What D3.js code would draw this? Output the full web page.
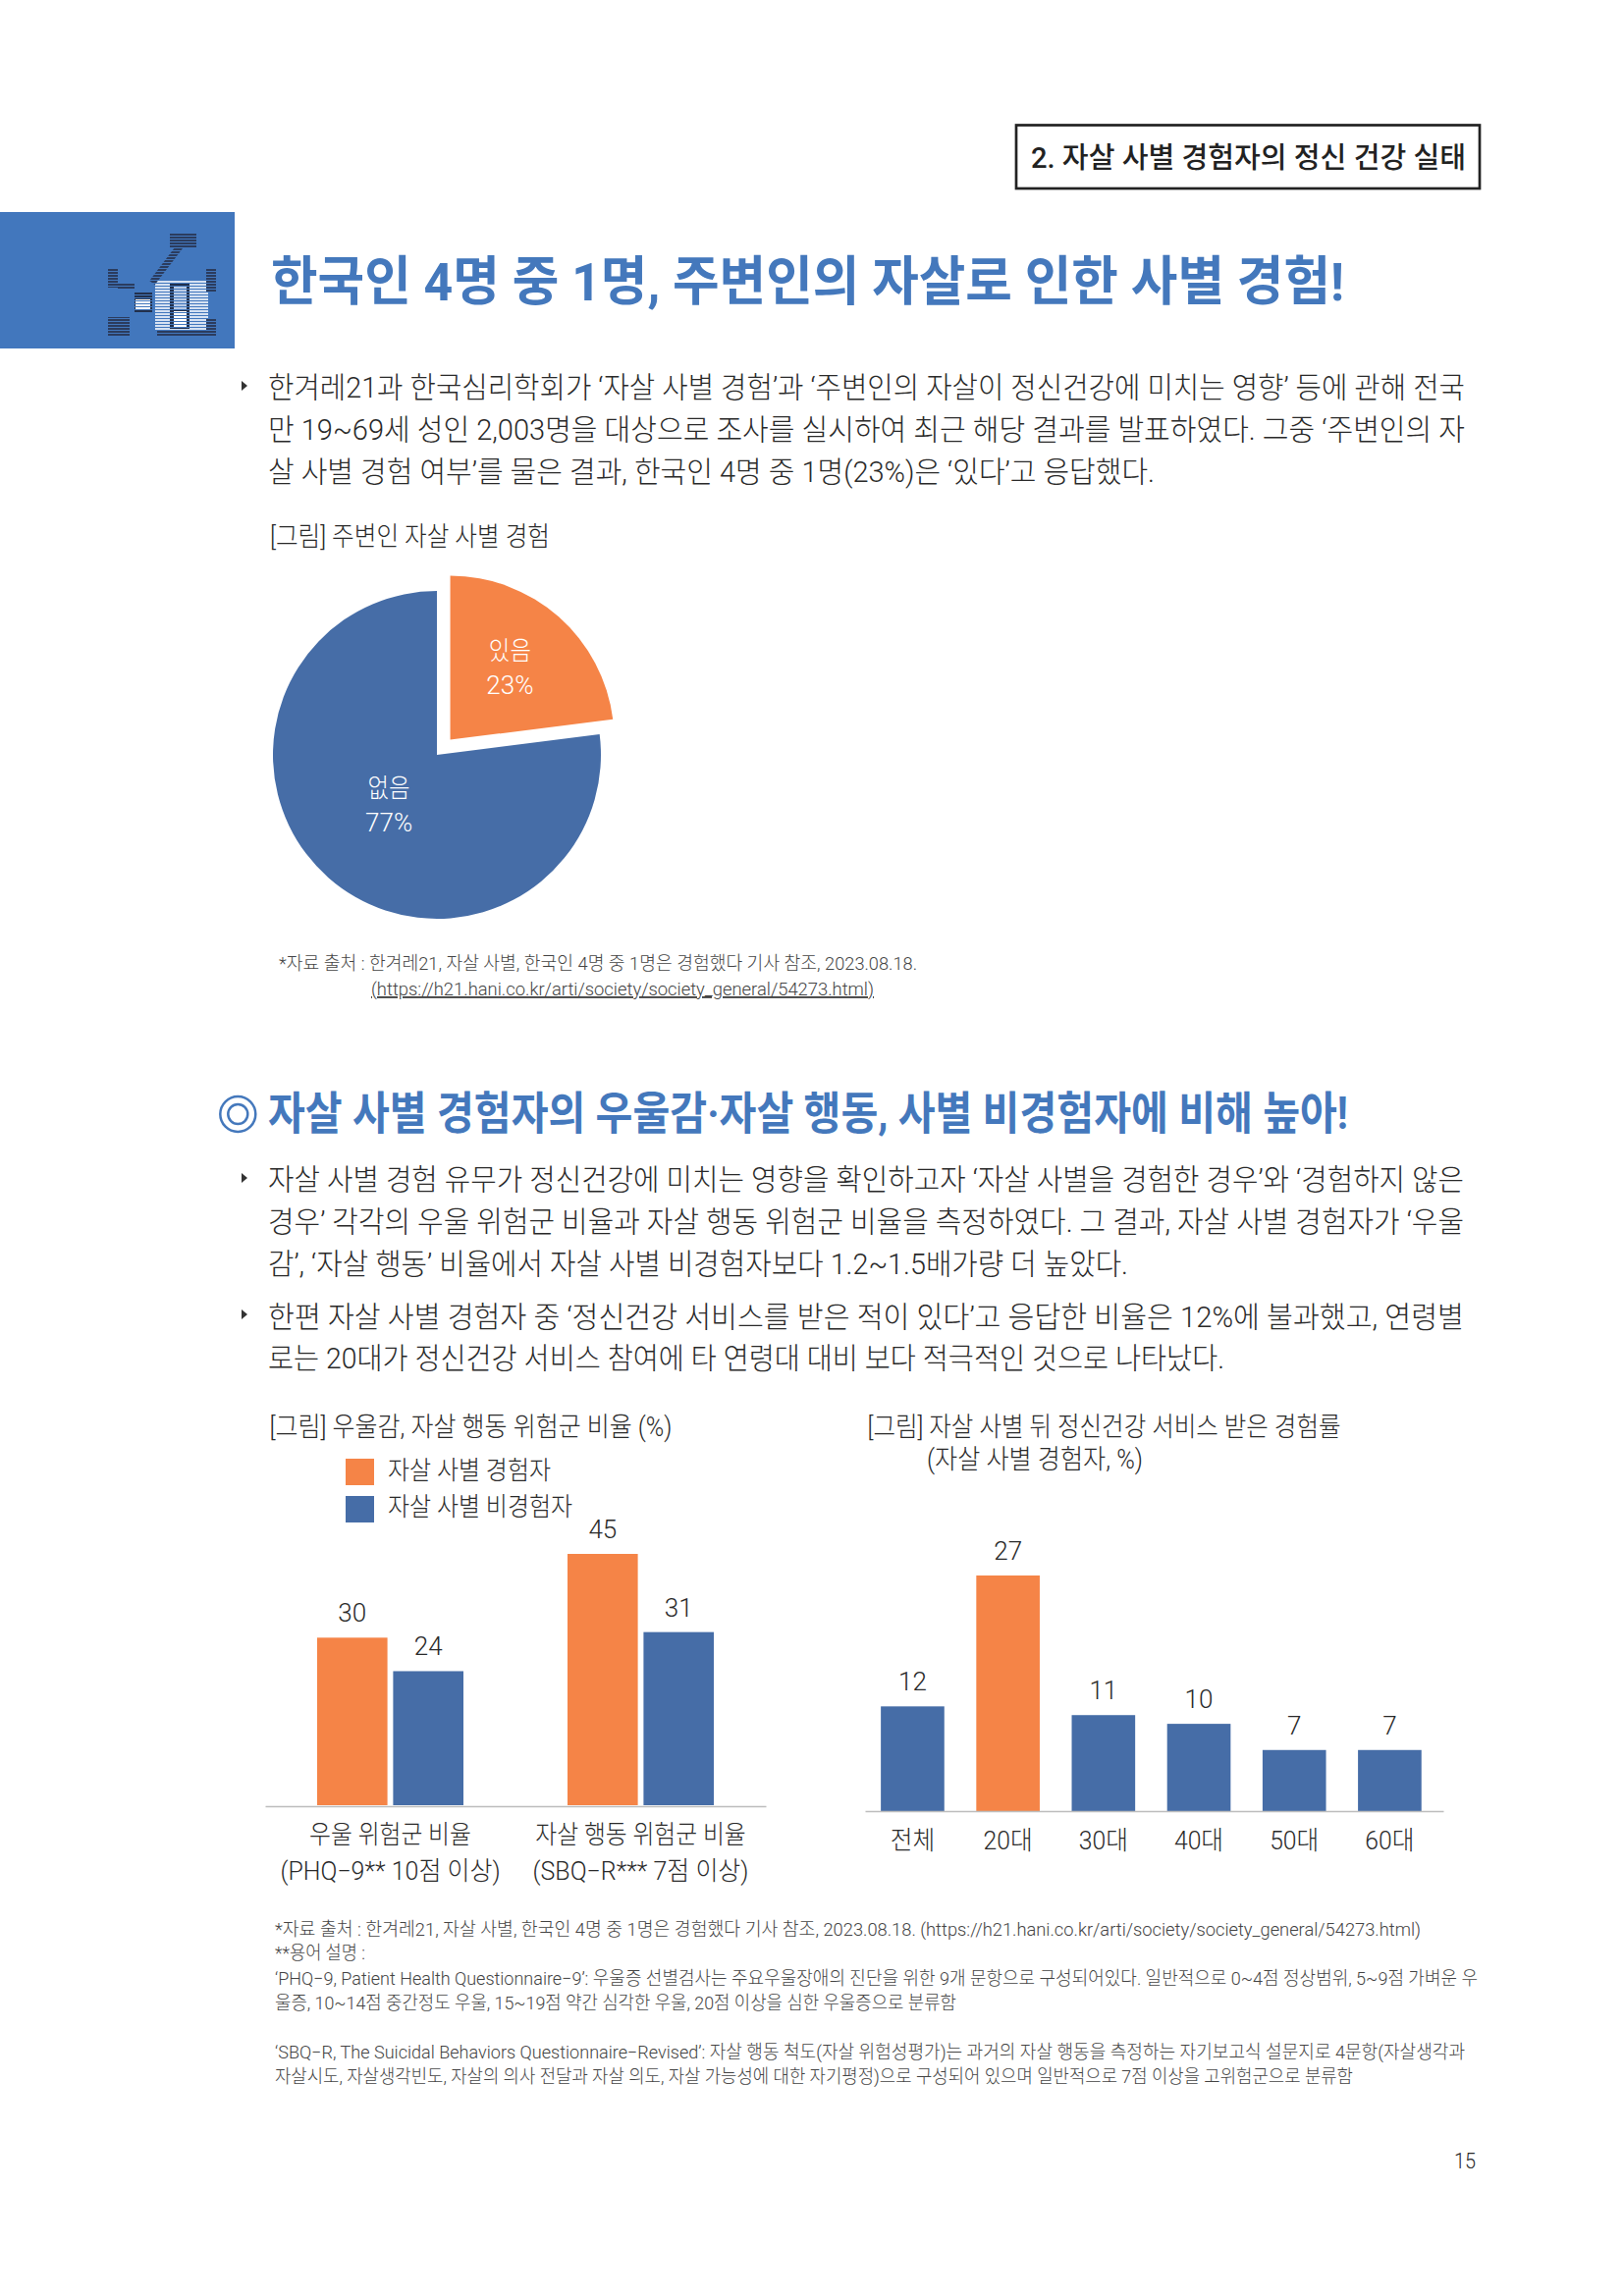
<!DOCTYPE html>
<html lang="ko">
<head>
<meta charset="utf-8">
<title>자살 사별 경험자의 정신 건강 실태</title>
<script src="https://cdn.jsdelivr.net/npm/d3@7"></script>
<style>
    html, body { margin: 0; padding: 0; background: #fff; }
    svg { display: block; }
    text { font-family: Roboto, "Noto Sans CJK KR", sans-serif; }
</style>
</head>
<body>
<svg id="page" width="1653" height="2339"></svg>
<script>
// chart values
const pieLabels = ['있음', '없음'];
const pieValues = [23, 77];

const riskCategories = ['우울 위험군 비율', '자살 행동 위험군 비율'];
const riskSubLabels = ['(PHQ−9** 10점 이상)', '(SBQ−R*** 7점 이상)'];
const riskSeries = ['자살 사별 경험자', '자살 사별 비경험자'];
const bereavedValues = [30, 45];
const nonBereavedValues = [24, 31];

const ageCategories = ['전체', '20대', '30대', '40대', '50대', '60대'];
const ageValues = [12, 27, 11, 10, 7, 7];

const orange = '#f58447';
const blue = '#466da7';
const titleBlue = '#4478bc';
const ink = '#2a2a2a';

const svg = d3.select('#page');

// text squeezed to the width it has in the picture
function put(x, y, str, size, width, opts = {}) {
    const t = svg.append('text')
        .attr('x', x)
        .attr('y', y)
        .attr('font-size', size)
        .attr('font-weight', opts.weight || 400)
        .attr('fill', opts.fill || ink)
        .text(str);
    if (width) {
        t.attr('textLength', width).attr('lengthAdjust', 'spacingAndGlyphs');
    }
    return t;
}

function squeeze(sel, k) {
    sel.each(function () {
        d3.select(this)
            .attr('textLength', this.getComputedTextLength() * k)
            .attr('lengthAdjust', 'spacingAndGlyphs');
    });
}

function bullet(x, y) {
    svg.append('path')
        .attr('d', `M${x - 3} ${y - 5}L${x + 3} ${y}L${x - 3} ${y + 5}Z`)
        .attr('fill', '#333');
}

// header box
svg.append('rect')
    .attr('x', 1035).attr('y', 127.5)
    .attr('width', 472).attr('height', 64.5)
    .attr('fill', 'none').attr('stroke', '#222').attr('stroke-width', 2.7);
put(1050, 171, '2. 자살 사별 경험자의 정신 건강 실태', 29, 443, { weight: 500, fill: '#222' });

// banner with the small lamp icon
svg.append('rect')
    .attr('x', 0).attr('y', 216)
    .attr('width', 239).attr('height', 139)
    .attr('fill', '#4277bd');

const defs = svg.append('defs');
defs.append('pattern')
    .attr('id', 'scan')
    .attr('width', 4).attr('height', 3)
    .attr('patternUnits', 'userSpaceOnUse')
    .append('rect')
    .attr('width', 4).attr('height', 1)
    .attr('fill', '#4277bd');

const icon = svg.append('g');
const iconParts = [
    [158, 285, 54, 52, '#d5e1f2'],
    [173, 237, 27, 15, '#2b3c5e'],
    [110, 273, 10, 20, '#2b3c5e'],
    [120, 288, 17, 7, '#2b3c5e'],
    [137, 297, 18, 21, '#22304c'],
    [138, 305, 15, 10, '#ffffff'],
    [173, 288, 20, 47, '#22304c'],
    [177, 292, 13, 23, '#b9cbe6'],
    [177, 317, 13, 16, '#ffffff'],
    [210, 273, 10, 24, '#2b3c5e'],
    [210, 325, 10, 17, '#2b3c5e'],
    [110, 323, 22, 19, '#2b3c5e'],
    [160, 337, 57, 5, '#2b3c5e']
];
icon.selectAll('rect')
    .data(iconParts)
    .join('rect')
    .attr('x', d => d[0]).attr('y', d => d[1])
    .attr('width', d => d[2]).attr('height', d => d[3])
    .attr('fill', d => d[4]);
icon.append('line')
    .attr('x1', 187).attr('y1', 246).attr('x2', 155).attr('y2', 288)
    .attr('stroke', '#2b3c5e').attr('stroke-width', 7);
svg.append('rect')
    .attr('x', 108).attr('y', 234).attr('width', 114).attr('height', 110)
    .attr('fill', 'url(#scan)');

// title
put(276, 306, '한국인 4명 중 1명, 주변인의 자살로 인한 사별 경험!', 54, 1093, { weight: 700, fill: titleBlue });

// first paragraph
bullet(249, 393);
put(273, 405, '한겨레21과 한국심리학회가 ‘자살 사별 경험’과 ‘주변인의 자살이 정신건강에 미치는 영향’ 등에 관해 전국', 30, 1219, { weight: 300 });
put(273, 448, '만 19~69세 성인 2,003명을 대상으로 조사를 실시하여 최근 해당 결과를 발표하였다. 그중 ‘주변인의 자', 30, 1219, { weight: 300 });
put(273, 491, '살 사별 경험 여부’를 물은 결과, 한국인 4명 중 1명(23%)은 ‘있다’고 응답했다.', 30, 903, { weight: 300 });

// pie
put(275, 556, '[그림] 주변인 자살 사별 경험', 27, 285, { weight: 300 });

const pieCx = 445, pieCy = 769, pieRadius = 167, pieExplode = 20.5;
const pieLabelRadius = [92, 74];
const pieColor = d3.scaleOrdinal().domain(pieLabels).range([orange, blue]);
const slices = d3.pie().sort(null)(pieValues);
const arc = d3.arc().innerRadius(0).outerRadius(pieRadius);

const pieGroup = svg.append('g').attr('transform', `translate(${pieCx},${pieCy})`);
const sliceGroups = pieGroup.selectAll('g')
    .data(slices)
    .join('g')
    .attr('transform', (d, i) => {
        if (i > 0) return null;
        const mid = (d.startAngle + d.endAngle) / 2;
        return `translate(${Math.sin(mid) * pieExplode},${-Math.cos(mid) * pieExplode})`;
    });
sliceGroups.append('path')
    .attr('d', arc)
    .attr('fill', (d, i) => pieColor(pieLabels[i]));
sliceGroups.each(function (d, i) {
    const mid = (d.startAngle + d.endAngle) / 2;
    const lx = Math.sin(mid) * pieLabelRadius[i];
    const ly = -Math.cos(mid) * pieLabelRadius[i];
    const g = d3.select(this).append('g')
        .attr('text-anchor', 'middle')
        .attr('fill', '#fff')
        .attr('font-size', 26)
        .attr('font-weight', 300);
    const name = g.append('text').attr('x', lx).attr('y', ly - 13).text(pieLabels[i]);
    squeeze(name, 0.9);
    g.append('text').attr('x', lx).attr('y', ly + 22).text(pieValues[i] + '%');
});

put(284, 988, '*자료 출처 : 한겨레21, 자살 사별, 한국인 4명 중 1명은 경험했다 기사 참조, 2023.08.18.', 19, 650, { weight: 300, fill: '#444' });
put(378, 1014, '(https://h21.hani.co.kr/arti/society/society_general/54273.html)', 19, 512, { weight: 300, fill: '#444' })
    .attr('text-decoration', 'underline');

// section heading
svg.append('circle')
    .attr('cx', 242.3).attr('cy', 1135).attr('r', 18)
    .attr('fill', 'none').attr('stroke', titleBlue).attr('stroke-width', 2.5);
svg.append('circle')
    .attr('cx', 242.3).attr('cy', 1135).attr('r', 10)
    .attr('fill', 'none').attr('stroke', titleBlue).attr('stroke-width', 2.5);
put(273, 1150, '자살 사별 경험자의 우울감·자살 행동, 사별 비경험자에 비해 높아!', 46, 1100, { weight: 700, fill: titleBlue });

// second paragraph
bullet(249, 1200);
put(273, 1212, '자살 사별 경험 유무가 정신건강에 미치는 영향을 확인하고자 ‘자살 사별을 경험한 경우’와 ‘경험하지 않은', 30, 1218, { weight: 300 });
put(273, 1255, '경우’ 각각의 우울 위험군 비율과 자살 행동 위험군 비율을 측정하였다. 그 결과, 자살 사별 경험자가 ‘우울', 30, 1218, { weight: 300 });
put(273, 1298, '감’, ‘자살 행동’ 비율에서 자살 사별 비경험자보다 1.2~1.5배가량 더 높았다.', 30, 876, { weight: 300 });
bullet(249, 1339);
put(273, 1352, '한편 자살 사별 경험자 중 ‘정신건강 서비스를 받은 적이 있다’고 응답한 비율은 12%에 불과했고, 연령별', 30, 1218, { weight: 300 });
put(273, 1394, '로는 20대가 정신건강 서비스 참여에 타 연령대 대비 보다 적극적인 것으로 나타났다.', 30, 974, { weight: 300 });

// grouped bars
put(274.5, 1463, '[그림] 우울감, 자살 행동 위험군 비율 (%)', 27, 410, { weight: 300 });

const legendColor = d3.scaleOrdinal().domain(riskSeries).range([orange, blue]);
const legendY = d3.scalePoint().domain(riskSeries).range([1486, 1524]);
svg.selectAll('rect.legend')
    .data(riskSeries)
    .join('rect')
    .attr('class', 'legend')
    .attr('x', 352).attr('y', d => legendY(d))
    .attr('width', 29).attr('height', 27)
    .attr('fill', d => legendColor(d));
put(395, 1507, riskSeries[0], 26, 166, { weight: 300 });
put(395, 1544, riskSeries[1], 26, 188, { weight: 300 });

const riskBase = 1839;
const riskX = d3.scaleBand().domain(riskCategories).range([270, 780]).paddingInner(0.4157).paddingOuter(0.2078);
const riskInner = d3.scaleBand().domain(riskSeries).range([0, riskX.bandwidth()]).paddingInner(0.075);
const riskY = d3.scaleLinear().domain([0, 45]).range([riskBase, 1583]);

const riskGroups = svg.selectAll('g.risk')
    .data(riskCategories)
    .join('g')
    .attr('class', 'risk')
    .attr('transform', d => `translate(${riskX(d)},0)`);
riskGroups.selectAll('rect')
    .data((d, i) => [
        { series: riskSeries[0], value: bereavedValues[i] },
        { series: riskSeries[1], value: nonBereavedValues[i] }
    ])
    .join('rect')
    .attr('x', d => riskInner(d.series))
    .attr('y', d => riskY(d.value))
    .attr('width', riskInner.bandwidth())
    .attr('height', d => riskBase - riskY(d.value))
    .attr('fill', d => legendColor(d.series));
riskGroups.selectAll('text')
    .data((d, i) => [
        { series: riskSeries[0], value: bereavedValues[i] },
        { series: riskSeries[1], value: nonBereavedValues[i] }
    ])
    .join('text')
    .attr('x', d => riskInner(d.series) + riskInner.bandwidth() / 2)
    .attr('y', d => riskY(d.value) - 16)
    .attr('text-anchor', 'middle')
    .attr('font-size', 26)
    .attr('font-weight', 300)
    .attr('fill', ink)
    .text(d => d.value);

const riskAxis = svg.append('g')
    .attr('transform', `translate(0,${riskBase + 1})`)
    .call(d3.axisBottom(riskX).tickSize(0).tickPadding(19).tickSizeOuter(0));
riskAxis.select('.domain').attr('stroke', '#bdbdbd').attr('stroke-width', 1.5);
riskAxis.selectAll('.tick text')
    .attr('font-size', 26)
    .attr('font-weight', 300)
    .attr('fill', ink)
    .attr('dy', '0.72em')
    .call(squeeze, 0.915);
riskAxis.selectAll('.tick')
    .append('text')
    .attr('y', 19)
    .attr('dy', 37 + 18.7)
    .attr('text-anchor', 'middle')
    .attr('font-size', 26)
    .attr('font-weight', 300)
    .attr('fill', ink)
    .text((d, i) => riskSubLabels[i])
    .call(squeeze, 0.96);

// age bars
put(883.5, 1463, '[그림] 자살 사별 뒤 정신건강 서비스 받은 경험률', 27, 482, { weight: 300 });
put(944, 1496, '(자살 사별 경험자, %)', 27, 220, { weight: 300 });

const ageBase = 1845;
const ageX = d3.scaleBand().domain(ageCategories).range([881, 1470])
    .paddingInner(0.335).paddingOuter(0.1975).align(0.42);
const ageY = d3.scaleLinear().domain([0, 27]).range([ageBase, 1605]);

svg.selectAll('rect.age')
    .data(ageCategories)
    .join('rect')
    .attr('class', 'age')
    .attr('x', d => ageX(d))
    .attr('y', (d, i) => ageY(ageValues[i]))
    .attr('width', ageX.bandwidth())
    .attr('height', (d, i) => ageBase - ageY(ageValues[i]))
    .attr('fill', d => d === '20대' ? orange : blue);
svg.selectAll('text.age')
    .data(ageCategories)
    .join('text')
    .attr('class', 'age')
    .attr('x', d => ageX(d) + ageX.bandwidth() / 2)
    .attr('y', (d, i) => ageY(ageValues[i]) - 16)
    .attr('text-anchor', 'middle')
    .attr('font-size', 26)
    .attr('font-weight', 300)
    .attr('fill', ink)
    .text((d, i) => ageValues[i]);

const ageAxis = svg.append('g')
    .attr('transform', `translate(0,${ageBase})`)
    .call(d3.axisBottom(ageX).tickSize(0).tickPadding(20).tickSizeOuter(0));
ageAxis.select('.domain').attr('stroke', '#bdbdbd').attr('stroke-width', 1.5);
ageAxis.selectAll('.tick text')
    .attr('font-size', 26)
    .attr('font-weight', 300)
    .attr('fill', ink)
    .attr('dy', '0.72em')
    .call(squeeze, 0.95);

// footnotes
const noteOpts = { weight: 300, fill: '#444' };
put(280, 1972, '*자료 출처 : 한겨레21, 자살 사별, 한국인 4명 중 1명은 경험했다 기사 참조, 2023.08.18. (https://h21.hani.co.kr/arti/society/society_general/54273.html)', 19, 1167, noteOpts);
put(280, 1996, '**용어 설명 :', 19, 92, noteOpts);
put(280, 2022, '‘PHQ−9, Patient Health Questionnaire−9’: 우울증 선별검사는 주요우울장애의 진단을 위한 9개 문항으로 구성되어있다. 일반적으로 0~4점 정상범위, 5~9점 가벼운 우', 19, 1225, noteOpts);
put(280, 2047, '울증, 10~14점 중간정도 우울, 15~19점 약간 심각한 우울, 20점 이상을 심한 우울증으로 분류함', 19, 694, noteOpts);
put(280, 2097, '‘SBQ−R, The Suicidal Behaviors Questionnaire−Revised’: 자살 행동 척도(자살 위험성평가)는 과거의 자살 행동을 측정하는 자기보고식 설문지로 4문항(자살생각과', 19, 1212, noteOpts);
put(280, 2122, '자살시도, 자살생각빈도, 자살의 의사 전달과 자살 의도, 자살 가능성에 대한 자기평정)으로 구성되어 있으며 일반적으로 7점 이상을 고위험군으로 분류함', 19, 1098, noteOpts);

// page number
put(1481, 2209, '15', 22, 22, { weight: 300 });
</script>
</body>
</html>
